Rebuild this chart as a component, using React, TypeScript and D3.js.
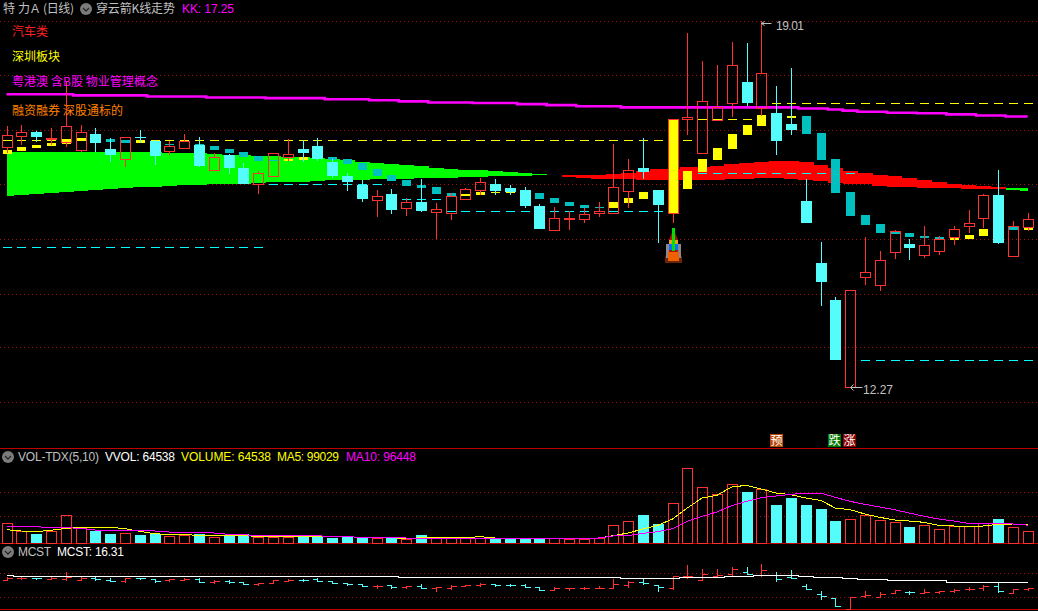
import React from 'react';
import * as d3 from 'd3';

// K line data
const opens = [16.69,16.89,16.97,16.84,16.78,16.64,16.93,16.66,16.47,16.88,16.80,16.62,16.67,16.73,16.27,16.55,16.31,16.01,16.16,16.51,16.66,16.71,16.42,16.16,15.99,15.72,15.83,15.57,15.68,15.50,15.48,15.74,15.90,16.01,15.94,15.90,15.61,15.16,15.37,15.37,15.48,15.48,15.88,16.31,15.90,15.48,17.21,16.58,17.19,17.50,17.89,17.41,17.32,17.11,15.70,14.56,13.88,12.27,14.30,14.15,14.76,14.91,14.70,14.78,15.04,15.24,15.39,15.81,14.69,15.22];
const closes = [16.91,16.97,16.88,16.86,17.08,16.97,16.77,16.55,16.88,16.86,16.53,16.71,16.80,16.34,16.51,16.31,16.01,16.21,16.58,16.56,16.58,16.47,16.16,16.05,15.74,15.79,15.53,15.68,15.51,15.55,15.79,15.92,16.05,15.88,15.86,15.61,15.18,15.39,15.39,15.46,15.51,15.96,16.27,16.23,15.62,17.21,17.24,17.54,17.43,18.20,17.50,18.05,16.80,17.00,15.29,14.21,12.77,14.06,14.39,14.60,15.15,14.83,14.89,15.00,15.18,15.29,15.81,14.92,15.24,15.37];
const highs = [17.08,17.10,16.99,17.04,17.89,17.10,17.04,16.86,16.88,17.00,16.82,16.80,16.93,16.88,16.58,16.56,16.40,16.25,16.58,16.84,16.82,16.86,16.47,16.21,16.08,15.90,15.92,15.75,16.10,15.66,15.85,15.94,16.12,16.10,15.99,15.96,15.64,15.59,15.51,15.57,15.68,16.75,16.47,16.86,15.90,17.21,18.79,18.27,18.20,18.62,18.60,19.01,17.81,18.15,16.10,14.94,13.93,14.06,15.04,14.78,15.16,15.00,15.24,15.05,15.24,15.53,15.83,16.27,15.33,15.48];
const lows = [16.58,16.73,16.78,16.73,16.69,16.60,16.60,16.42,16.33,16.77,16.36,16.55,16.66,16.33,16.25,16.20,16.01,15.83,16.16,16.44,16.42,16.44,16.12,15.88,15.68,15.40,15.46,15.42,15.50,15.00,15.35,15.74,15.81,15.81,15.81,15.57,15.18,15.15,15.16,15.29,15.40,15.46,15.57,16.10,14.92,15.29,16.91,16.58,17.19,17.24,17.45,17.26,16.55,16.91,15.29,13.77,12.77,12.27,14.15,14.04,14.63,14.61,14.65,14.70,14.89,15.11,15.20,14.91,14.69,15.15];

// small signal bars, top and bottom price; y = yellow, t = teal, n = none
const signalKinds = 'yyyyyynttyytytttttt'.split('').concat('yyntttttttttttyyyyyn'.split(''), 'ttttt'.split(''));
const signalKindList = ['y','y','y','y','y','y','n','t','t','y','y','t','y','t','t','t','t','t','t','y','y','n','t','t','t','t','t','t','t','t','t','y','y','y','y','n','t','t','t','t','t','y','y','y','n','y','y','y','y','y','y','y','n','y','t','t','t','t','t','t','t','t','t','t','y','y','y','n','t','y'];
const signalTops = [16.64,16.69,16.73,16.77,16.84,16.86,0,16.84,16.82,16.82,16.82,16.75,16.82,16.75,16.71,16.66,16.60,16.53,16.45,16.47,16.51,0,16.51,16.47,16.40,16.29,16.18,16.08,15.99,15.96,15.85,15.83,15.86,15.86,15.86,0,15.85,15.75,15.68,15.62,15.59,15.68,15.75,15.86,0,17.21,16.25,16.47,16.67,16.93,17.10,17.28,0,17.26,17.26,16.95,16.47,15.86,15.44,15.28,15.15,15.11,15.05,15.04,15.02,15.07,15.18,0,15.22,15.22];
const signalBottoms = [16.56,16.62,16.67,16.71,16.75,16.80,0,16.78,16.77,16.77,16.79,16.73,16.80,16.73,16.64,16.58,16.51,16.44,16.44,16.44,16.45,0,16.45,16.38,16.27,16.16,16.07,15.97,15.94,15.83,15.79,15.79,15.81,15.85,15.85,0,15.74,15.66,15.61,15.57,15.57,15.57,15.66,15.74,0,15.48,15.92,16.23,16.45,16.66,16.91,17.08,0,17.22,16.93,16.45,15.85,15.42,15.26,15.11,15.09,15.04,15.02,15.00,14.98,15.00,15.05,0,15.16,15.16];

// cloud band edges (upper and lower price of the band at every bar)
const bandUpper = [16.60,16.60,16.60,16.60,16.60,16.60,16.60,16.60,16.60,16.60,16.59,16.58,16.58,16.58,16.56,16.55,16.54,16.53,16.52,16.51,16.50,16.49,16.47,16.45,16.42,16.40,16.38,16.36,16.34,16.31,16.29,16.27,16.27,16.25,16.23,16.21,16.20,16.18,16.17,16.18,16.18,16.20,16.21,16.25,16.29,16.29,16.33,16.33,16.34,16.37,16.39,16.42,16.44,16.44,16.42,16.36,16.31,16.25,16.21,16.18,16.15,16.12,16.08,16.05,16.01,15.99,15.97,15.96,15.94,15.94];
const bandLower = [15.79,15.81,15.83,15.85,15.86,15.88,15.90,15.92,15.94,15.96,15.96,15.97,15.99,15.99,16.01,16.01,16.01,16.02,16.05,16.05,16.05,16.07,16.08,16.08,16.08,16.10,16.10,16.10,16.12,16.12,16.12,16.14,16.14,16.16,16.16,16.16,16.17,16.17,16.14,16.12,16.10,16.10,16.10,16.08,16.08,16.08,16.08,16.08,16.08,16.10,16.10,16.11,16.11,16.10,16.09,16.07,16.03,16.01,16.00,15.97,15.96,15.95,15.94,15.94,15.94,15.92,15.92,15.92,15.90,15.88];
const bandRedFrom = 37;
const bandRedTo = 67;

// KK line
const kkLine = [17.66,17.66,17.66,17.66,17.66,17.64,17.64,17.64,17.64,17.64,17.62,17.62,17.62,17.62,17.60,17.60,17.60,17.60,17.59,17.59,17.59,17.59,17.57,17.57,17.57,17.55,17.55,17.53,17.53,17.51,17.51,17.51,17.50,17.50,17.50,17.48,17.48,17.46,17.46,17.44,17.44,17.44,17.42,17.42,17.42,17.42,17.42,17.42,17.42,17.42,17.42,17.42,17.42,17.42,17.40,17.40,17.38,17.36,17.34,17.34,17.32,17.32,17.31,17.31,17.29,17.29,17.27,17.27,17.25,17.25];

// dashed price levels with the first and last bar they span
const levelPrices = [14.85,16.82,17.21,17.50,16.01,15.74,15.51,16.22,12.77];
const levelFrom = [0,0,47,52,18,27,30,47,58];
const levelTo = [17,46,50,69,25,29,44,57,69];
const levelColors = ['#00ffff','#ffff00','#ffff00','#ffff00','#00ffff','#00ffff','#00ffff','#00ffff','#00ffff'];

// volume panel
const volumes = [108000,64800,50200,64800,151200,81000,64800,50200,54000,45900,50200,40500,45900,48600,35100,43200,48600,32400,35100,35100,40500,40500,28600,35100,29700,29700,29700,24300,43200,35100,35100,25400,29700,27000,27000,24300,27000,27000,24300,24300,27000,97200,118800,151200,102600,216000,405000,302400,266200,318600,277000,291600,206800,244600,206800,185200,120400,129600,151200,124200,113400,88000,97200,75600,90200,90200,106400,131200,86400,64538];
const volMa5 = [72000,64800,61200,68400,79200,84600,84600,84600,77400,63000,50400,45000,45000,41400,39600,39600,39600,36000,36000,36000,37800,37800,34200,34200,30600,30600,30600,21600,28800,28800,28800,28800,34200,27000,27000,23400,27000,27000,27000,27000,27000,39600,54000,75600,95400,129600,189000,243000,257400,302400,311400,291600,270000,261000,243000,230400,189000,180000,156600,138600,124200,118800,111600,95400,91800,86400,91800,100800,102600,99029];
const volMa10 = [88200,88200,88200,82800,82800,79200,70200,70200,70200,70200,64800,59400,59400,59400,54000,46800,45000,39600,39600,39600,39600,39600,34200,34200,30600,30600,30600,27000,27000,27000,27000,27000,27000,27000,27000,27000,27000,27000,27000,27000,27000,37800,39600,52200,61200,77400,117000,144000,167400,201600,225000,244800,253800,262800,270000,270000,246600,225000,208800,194400,180000,162000,144000,129600,118800,106200,106200,106200,102600,96448];

// MCST line
const mcstLine = [17.37,17.18,17.18,17.18,17.18,17.18,17.18,17.18,17.18,17.18,17.18,17.18,17.18,17.18,17.18,17.18,17.18,17.18,17.18,17.18,17.18,17.18,17.18,17.18,17.18,17.18,17.18,16.97,16.97,16.97,16.97,16.97,16.97,16.97,16.97,16.97,16.97,16.97,16.97,16.97,16.97,16.97,16.88,16.88,16.88,16.88,16.97,17.03,17.03,17.12,17.12,17.33,17.33,17.33,17.18,17.03,17.03,16.88,16.73,16.73,16.58,16.58,16.58,16.58,16.31,16.31,16.31,16.31,16.31,16.31];

const gridPrices = [19.01,18.02,17.00,16.01,15.00,13.99,13.00,12.00];
const indices = d3.range(opens.length);

const RED = '#ff3232';
const CYAN = '#54fcfc';
const TEAL = '#00c0c0';
const YELLOW = '#ffff00';
const MAGENTA = '#ff00ff';
const GRID = '#a01010';
const FRAME = '#c00000';
const GREY = '#c0c0c0';
const LATIN = '"Liberation Sans", Arial, sans-serif';
const CJK = '"Noto Sans CJK SC", sans-serif';

const xBar = d3.scaleLinear().domain([0, 69]).range([6.5, 1027.7]);
const yPrice = d3.scaleLinear().domain([19.01, 12.27]).range([21, 387]);
const yVol = d3.scaleLinear().domain([0, 405000]).range([543, 468]);
const yMcst = d3.scaleLinear().domain([19.01, 12.27]).range([564, 609.3]);

const px = (v: number) => Math.round(v);
const isUp = (i: number) => closes[i] >= opens[i];

const volLine = (vals: number[]) =>
  d3.line<number>().x((_, i) => xBar(i)).y(d => yVol(d))(vals) as string;
const stepLine = (vals: number[], y: (v: number) => number) =>
  d3.line<number>().x((_, i) => xBar(i)).y(d => y(d)).curve(d3.curveStep)(vals) as string;

const Chevron: React.FC<{ cx: number; cy: number }> = ({ cx, cy }) => (
  <g>
    <circle cx={cx} cy={cy} r={6} fill="#7c7c7c" />
    <path d={`M${cx - 3},${cy - 1}L${cx},${cy + 2}L${cx + 3},${cy - 1}`} fill="none" stroke="#2a2a2a" strokeWidth={1.4} />
  </g>
);

const Label: React.FC<{ x: number; y: number; fill: string; font?: string; size?: number; children: React.ReactNode; len?: number }> = ({ x, y, fill, font, size, children, len }) => (
  <text x={x} y={y} fill={fill} fontFamily={font || LATIN} fontSize={size || 12} textLength={len} lengthAdjust={len ? 'spacing' : undefined}>
    {children}
  </text>
);

const Rocket: React.FC<{ x: number }> = ({ x }) => (
  <g>
    <path d={`M${x - 8},263L${x - 8},257L${x - 5},250L${x + 6},250L${x + 9},257L${x + 9},263Z`} fill="#6b2408" />
    <rect x={x - 7} y={244} width={3} height={14} fill="#8a8a8a" />
    <rect x={x + 5} y={244} width={3} height={14} fill="#8a8a8a" />
    <path d={`M${x + 0.5},229L${x - 4},240L${x - 4},252L${x + 5},252L${x + 5},240Z`} fill="#b01010" />
    <rect x={x - 4} y={240} width={9} height={4} fill="#e8a020" />
    <rect x={x - 4} y={244} width={9} height={6} fill="#0a6cff" />
    <rect x={x - 1} y={228} width={3} height={23} fill="#00e000" />
    <rect x={x - 5} y={252} width={11} height={9} fill="#f06000" />
  </g>
);

export default function App() {
  return (
    <div style={{ position: 'fixed', left: 0, top: 0, width: 1038, height: 611, background: '#000', overflow: 'hidden' }}>
      <svg width={1038} height={611} style={{ display: 'block' }}>
        <rect width={1038} height={611} fill="#000" />

        {/* price grid */}
        {gridPrices.map(p => (
          <line key={p} x1={0} x2={1038} y1={px(yPrice(p)) + 0.5} y2={px(yPrice(p)) + 0.5} stroke={GRID} strokeDasharray="1 3" />
        ))}

        {/* cloud band */}
        <g shapeRendering="crispEdges">
          {indices.map(i => {
            const x0 = Math.max(xBar(i) - 7.4, xBar(0));
            const x1 = Math.min(xBar(i) + 7.4, xBar(69));
            const red = i >= bandRedFrom && i <= bandRedTo;
            return (
              <rect key={i} x={x0} width={x1 - x0 + 0.5} y={yPrice(bandUpper[i])} height={yPrice(bandLower[i]) - yPrice(bandUpper[i])} fill={red ? '#ff0000' : '#00ff00'} />
            );
          })}
        </g>

        {/* dashed levels, one dash per bar */}
        <g shapeRendering="crispEdges">
          {levelPrices.map((p, k) =>
            d3.range(levelFrom[k], levelTo[k] + 1).map(i => (
              <rect key={`${k}-${i}`} x={px(xBar(i)) - 4} width={9} y={px(yPrice(p))} height={1} fill={levelColors[k]} />
            ))
          )}
        </g>

        {/* signal bars */}
        <g shapeRendering="crispEdges">
          {indices.filter(i => signalKindList[i] !== 'n').map(i => {
            const t = yPrice(signalTops[i]);
            const b = yPrice(signalBottoms[i]);
            return (
              <rect key={i} x={px(xBar(i)) - 4} width={9} y={px(t)} height={Math.max(1, px(b) - px(t))} fill={signalKindList[i] === 'y' ? YELLOW : TEAL} />
            );
          })}
        </g>

        {/* KK line */}
        <path d={stepLine(kkLine, yPrice)} fill="none" stroke={MAGENTA} strokeWidth={2.6} />

        {/* candles */}
        <g shapeRendering="crispEdges">
          {indices.map(i => {
            const up = isUp(i);
            const c = px(xBar(i));
            const top = px(yPrice(Math.max(opens[i], closes[i])));
            const bottom = px(yPrice(Math.min(opens[i], closes[i])));
            const hi = px(yPrice(highs[i]));
            const lo = px(yPrice(lows[i]));
            if (up) {
              return (
                <g key={i} stroke={RED} fill="none">
                  {hi < top && <line x1={c + 0.5} x2={c + 0.5} y1={hi} y2={top} />}
                  {lo > bottom && <line x1={c + 0.5} x2={c + 0.5} y1={bottom} y2={lo} />}
                  <rect x={c - 4.5} y={top + 0.5} width={10} height={Math.max(1, bottom - top)} />
                </g>
              );
            }
            return (
              <g key={i}>
                <line x1={c + 0.5} x2={c + 0.5} y1={hi} y2={lo} stroke={CYAN} />
                <rect x={c - 5} y={top} width={11} height={Math.max(1, bottom - top)} fill={CYAN} />
              </g>
            );
          })}
        </g>

        <Rocket x={px(xBar(45))} />

        {/* high and low marks */}
        <g stroke={GREY} fill="none">
          <path d={`M${px(xBar(51)) + 0.5},${yPrice(19.01) + 2.5}h10M${px(xBar(51)) + 0.5},${yPrice(19.01) + 2.5}l3,-2M${px(xBar(51)) + 0.5},${yPrice(19.01) + 2.5}l3,2`} />
          <path d={`M${px(xBar(57)) + 0.5},${yPrice(12.27) + 0.5}h12M${px(xBar(57)) + 0.5},${yPrice(12.27) + 0.5}l3,-3M${px(xBar(57)) + 0.5},${yPrice(12.27) + 0.5}l3,3`} />
        </g>
        <Label x={776} y={30} fill={GREY} len={28}>19.01</Label>
        <Label x={863} y={394} fill={GREY} len={30}>12.27</Label>

        {/* header */}
        <Label x={3} y={13} fill={GREY} font={CJK}>特</Label>
        <Label x={18} y={13} fill={GREY} font={CJK}>力</Label>
        <Label x={31} y={13} fill={GREY} size={12}>A</Label>
        <Label x={43} y={13} fill={GREY} font={CJK} len={31}>(日线)</Label>
        <Chevron cx={86} cy={9} />
        <Label x={96} y={13} fill={GREY} font={CJK} len={79}>穿云箭K线走势</Label>
        <Label x={182} y={13} fill={MAGENTA} len={52}>KK: 17.25</Label>

        <Label x={12} y={36} fill="#ff2020" font={CJK}>汽车类</Label>
        <Label x={12} y={61} fill={YELLOW} font={CJK}>深圳板块</Label>
        <Label x={12} y={86} fill={MAGENTA} font={CJK} len={146}>粤港澳 含B股 物业管理概念</Label>
        <Label x={12} y={115} fill="#ff8000" font={CJK} len={111}>融资融券 深股通标的</Label>

        {/* signal tags */}
        {[{ x: 770, t: '预', bg: '#b84a0a' }, { x: 828, t: '跌', bg: '#007800' }, { x: 843, t: '涨', bg: '#880000' }].map(d => (
          <g key={d.t}>
            <rect x={d.x} y={434} width={13} height={13} fill={d.bg} />
            <text x={d.x + 0.5} y={445} fill="#fff" fontFamily={CJK} fontSize={12}>{d.t}</text>
          </g>
        ))}

        {/* panel frames */}
        <g stroke={FRAME} shapeRendering="crispEdges">
          <line x1={0} x2={1038} y1={448.5} y2={448.5} />
          <line x1={0} x2={1038} y1={543.5} y2={543.5} />
          <line x1={0} x2={1038} y1={609.5} y2={609.5} />
        </g>

        {/* volume panel */}
        <Chevron cx={8} cy={457} />
        <Label x={18} y={461} fill={GREY} len={81}>VOL-TDX(5,10)</Label>
        <Label x={105} y={461} fill="#ffffff" len={70}>VVOL: 64538</Label>
        <Label x={181} y={461} fill={YELLOW} len={90}>VOLUME: 64538</Label>
        <Label x={277} y={461} fill={YELLOW} len={62}>MA5: 99029</Label>
        <Label x={346} y={461} fill={MAGENTA} len={70}>MA10: 96448</Label>
        {[492, 516].map(y => (
          <line key={y} x1={0} x2={1038} y1={y + 0.5} y2={y + 0.5} stroke={GRID} strokeDasharray="1 3" />
        ))}
        <g shapeRendering="crispEdges">
          {indices.map(i => {
            const c = px(xBar(i));
            const top = px(yVol(volumes[i]));
            return isUp(i) ? (
              <rect key={i} x={c - 4.5} y={top + 0.5} width={10} height={543 - top} fill="none" stroke={RED} />
            ) : (
              <rect key={i} x={c - 5} y={top} width={11} height={543 - top} fill={CYAN} />
            );
          })}
          <path d={volLine(volMa5)} fill="none" stroke={YELLOW} />
          <path d={volLine(volMa10)} fill="none" stroke={MAGENTA} />
        </g>

        {/* MCST panel */}
        <Chevron cx={8} cy={552} />
        <Label x={18} y={556} fill={GREY} len={33}>MCST</Label>
        <Label x={57} y={556} fill="#ffffff" len={67}>MCST: 16.31</Label>
        {[573, 597].map(y => (
          <line key={y} x1={0} x2={1038} y1={y + 0.5} y2={y + 0.5} stroke={GRID} strokeDasharray="1 3" />
        ))}
        <g shapeRendering="crispEdges">
          {indices.map(i => {
            const c = px(xBar(i)) + 0.5;
            const o = px(yMcst(opens[i])) + 0.5;
            const k = px(yMcst(closes[i])) + 0.5;
            return (
              <path key={i} d={`M${c - 5},${o}H${c}M${c},${k}H${c + 5}M${c},${px(yMcst(highs[i]))}V${px(yMcst(lows[i])) + 1}`} fill="none" stroke={isUp(i) ? RED : CYAN} />
            );
          })}
          <path d={stepLine(mcstLine, yMcst)} fill="none" stroke="#ffffff" />
        </g>
      </svg>
    </div>
  );
}
